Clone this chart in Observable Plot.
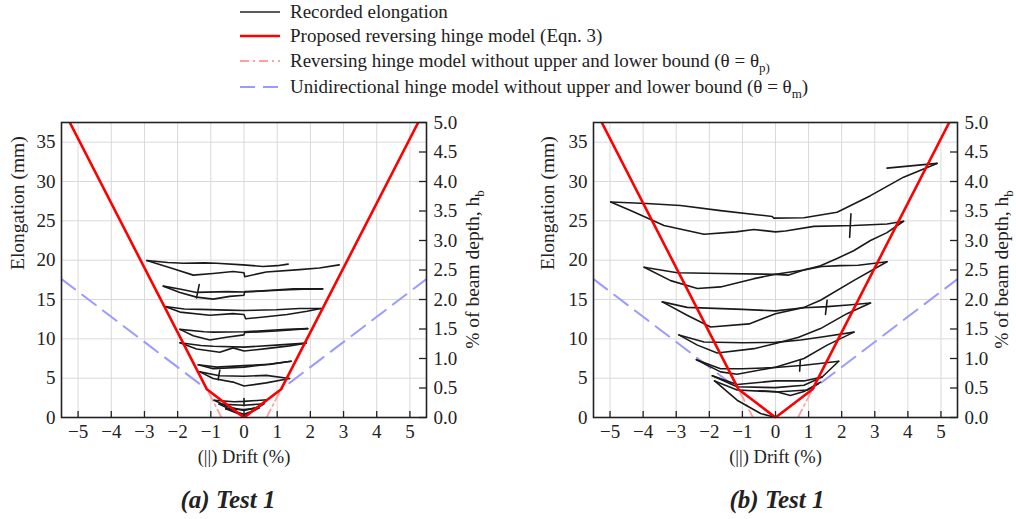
<!DOCTYPE html>
<html>
<head>
<meta charset="utf-8">
<script src="https://cdn.jsdelivr.net/npm/d3@7"></script>
<script src="https://cdn.jsdelivr.net/npm/@observablehq/plot@0.6"></script>
<style>
  body { margin: 0; background: #fff; font-family: "Liberation Serif", serif; color: #222; }
  #wrap { position: relative; width: 1016px; height: 519px; overflow: hidden; background: #fff; }
  .row { position: absolute; left: 240px; height: 24px; display: flex; align-items: center; white-space: nowrap; font-size: 19px; }
  .row svg { width: 40px; height: 10px; margin-right: 10px; flex: none; }
  .panel { position: absolute; top: 110px; }
  .panel svg, .panel svg text, .panel svg g { font-family: "Liberation Serif", serif !important; }
  .cap { position: absolute; top: 486px; font-size: 25px; font-weight: bold; font-style: italic; transform: translateX(-50%); white-space: nowrap; }
  sub { font-size: 13px; vertical-align: -5px; line-height: 0; }
</style>
</head>
<body>
<div id="wrap">
  <div class="row" style="top:0px"><svg><line x1="0" x2="40" y1="5" y2="5" stroke="#222" stroke-width="1.5"/></svg><span>Recorded elongation</span></div>
  <div class="row" style="top:24px"><svg><line x1="0" x2="40" y1="5" y2="5" stroke="#ff0000" stroke-width="2.5"/></svg><span>Proposed reversing hinge model (Eqn. 3)</span></div>
  <div class="row" style="top:49px"><svg><line x1="0" x2="40" y1="5" y2="5" stroke="#ff9f9f" stroke-width="1.8" stroke-dasharray="9,4,2,4"/></svg><span>Reversing hinge model without upper and lower bound (θ = θ<sub>p)</sub></span></div>
  <div class="row" style="top:75px"><svg><line x1="0" x2="40" y1="5" y2="5" stroke="#9a9aff" stroke-width="2" stroke-dasharray="15,8"/></svg><span>Unidirectional hinge model without upper and lower bound (θ = θ<sub>m</sub>)</span></div>
  <div id="pa" class="panel" style="left:0px"></div>
  <div id="pb" class="panel" style="left:520px"></div>
  <div class="cap" style="left:228px">(a) Test 1</div>
  <div class="cap" style="left:777px">(b) Test 1</div>
</div>
<script>
// ---------- axes ----------
const xTicks = [-5, -4, -3, -2, -1, 0, 1, 2, 3, 4, 5];
const yTicks = [0, 5, 10, 15, 20, 25, 30, 35];
const rightTicks = [0.0, 0.5, 1.0, 1.5, 2.0, 2.5, 3.0, 3.5, 4.0, 4.5, 5.0]; // % of beam depth
const beamDepthMm = 750;
const xDomain = [-5.5, 5.5];
const yDomain = [0, 37.5];
const xLabel = "(||) Drift (%)";
const yLabel = "Elongation (mm)";

// ---------- model lines (drift %, elongation mm) ----------
const proposedModel = [[-5.25, 37.5], [-1.12, 3.6], [0, 0], [1.12, 3.6], [5.25, 37.5]];
const reversingLeft = [[-5.25, 37.5], [-0.68, 0]];
const reversingRight = [[0.68, 0], [5.25, 37.5]];
const unidirectional = [[-5.5, 17.6], [0, 0], [5.5, 17.6]];

// ---------- recorded elongation, panel (a) ----------
const a1u = [[-2.93,19.95],[-2.3,19.7],[-1.83,19.6],[-1.2,19.65],[-0.83,19.6],[-0.03,19.4],[0.57,19.2],[1.0,19.3],[1.33,19.5]];
const a1l = [[-2.93,19.95],[-2.13,18.9],[-1.53,18.1],[-0.93,18.3],[-0.33,18.55],[0,18.4],[0.02,17.9],[0.67,18.5],[1.67,18.8],[2.27,19.0],[2.87,19.4]];
const a2u = [[-2.43,16.7],[-1.9,16.3],[-1.43,15.9],[-0.5,16.0],[0,15.95],[0.67,16.15],[1.5,16.35],[2.37,16.35]];
const a2l = [[-2.43,16.7],[-1.93,15.9],[-1.43,15.3],[-0.93,15.05],[-0.43,15.4],[0,15.55],[0.02,16.0],[0.5,16.05],[1.17,16.2],[1.8,16.3],[2.37,16.35]];
const a2t = [[-1.35,16.9],[-1.43,15.2]];
const a3u = [[-2.38,14.1],[-1.8,13.8],[-1.33,13.75],[-0.5,13.65],[0,13.6],[0.97,13.7],[1.67,13.85],[2.32,13.85]];
const a3l = [[-2.38,14.1],[-1.93,13.4],[-1.03,13.0],[-0.33,13.2],[0,13.1],[0.05,12.55],[0.67,12.8],[1.3,13.1],[1.9,13.5],[2.32,13.85]];
const a4u = [[-1.93,11.2],[-1.2,10.9],[-0.93,10.85],[0,10.9],[0.67,11.05],[1.3,11.2],[1.92,11.3]];
const a4l = [[-1.93,11.2],[-1.53,10.4],[-1.03,9.85],[-0.53,10.2],[0,10.5],[0.02,10.8],[0.97,11.0],[1.92,11.3]];
const a5u = [[-1.93,9.5],[-1.3,9.15],[-0.93,9.05],[0,8.95],[0.97,9.2],[1.87,9.45]];
const a5l = [[-1.93,9.5],[-1.43,8.7],[-0.73,8.3],[-0.33,8.85],[0,8.45],[0.67,8.75],[1.37,9.1],[1.87,9.45]];
const a6u = [[-1.38,6.7],[-0.83,6.4],[0,6.6],[0.77,6.75],[1.42,7.15]];
const a6l = [[-1.38,6.7],[-0.93,6.2],[0,6.4],[0.8,6.8],[1.42,7.15]];
const a6t = [[-0.73,6.0],[-0.78,4.8]];
const a7u = [[-1.33,5.8],[-0.73,5.3],[0,5.25],[0.67,5.35],[1.37,4.95]];
const a7l = [[-1.33,5.8],[-0.93,4.95],[-0.33,4.5],[0,4.0],[0.67,4.4],[1.37,4.95]];
const a8u = [[-0.9,2.2],[-0.3,2.0],[0,2.05],[0.7,2.25]];
const a8l = [[-0.9,2.2],[-0.5,1.4],[0,0.9],[0.4,1.3],[0.7,2.25]];
const a9u = [[-0.75,1.7],[0,1.55],[0.6,1.75]];
const a9l = [[-0.75,1.7],[-0.3,0.8],[0,0.4],[0.3,0.9],[0.6,1.75]];
const a10u = [[-0.55,1.1],[0,1.0],[0.45,1.2]];
const a10l = [[-0.55,1.1],[0,0.2],[0.45,1.2]];
const a10t = [[0,2.4],[0,1.5]];
const curvesA = [a1u,a1l,a2u,a2l,a2t,a3u,a3l,a4u,a4l,a5u,a5l,a6u,a6l,a6t,a7u,a7l,a8u,a8l,a9u,a9l,a10u,a10l,a10t];

// ---------- recorded elongation, panel (b) ----------
const b1u = [[-4.98,27.4],[-3.9,27.2],[-2.87,26.95],[-1.66,26.3],[-0.5,25.75],[-0.1,25.55],[-0.05,25.35],[0.86,25.4],[1.86,26.1],[2.87,28.2],[3.87,30.55],[4.88,32.3]];
const b1e = [[4.88,32.3],[3.37,31.7]];
const b1l = [[-4.98,27.4],[-4.38,26.3],[-3.37,24.4],[-2.16,23.3],[-1.2,23.6],[-0.65,23.9],[0,23.6],[0.3,23.7],[1.16,24.3],[2.36,24.4],[3.37,24.6],[3.87,24.95]];
const b1t = [[2.28,25.9],[2.24,22.9]];
const b2u = [[3.37,19.8],[2.5,19.35],[1.96,19.3],[1.4,19.2],[0.9,18.8],[0.4,18.1],[0,18.2],[-1.66,18.3],[-2.97,18.4],[-3.97,19.1]];
const b2l = [[-3.97,19.1],[-3.17,17.4],[-2.36,16.4],[-1.66,16.6],[-0.65,17.65],[0,18.2],[0.86,18.75],[1.36,19.3],[1.86,20.2],[2.36,21.2],[2.87,22.5],[3.37,23.5],[3.87,24.95]];
const b3u = [[2.87,14.55],[2.2,14.3],[1.56,14.1],[0.86,13.95],[0,13.55],[-1.0,13.75],[-2.67,14.0],[-3.42,14.7]];
const b3l = [[-3.42,14.7],[-2.67,13.0],[-1.96,11.5],[-0.8,11.9],[0,13.2],[0.86,14.0],[1.36,14.9],[2.36,17.4],[3.37,19.8]];
const b3t = [[1.56,14.9],[1.51,13.1]];
const b4u = [[2.37,10.85],[1.5,10.3],[0.76,9.85],[0,9.55],[-1.0,9.5],[-2.16,9.6],[-2.92,10.5]];
const b4l = [[-2.92,10.5],[-2.36,9.2],[-1.76,8.2],[-0.65,8.75],[0,9.4],[0.7,10.2],[1.36,11.3],[2.16,13.2],[2.87,14.55]];
const b5u = [[1.91,7.15],[1.4,6.9],[0.86,6.65],[0,6.35],[-1.0,6.2],[-1.66,6.2],[-2.39,7.35]];
const b5l = [[-2.39,7.35],[-1.66,5.8],[-1.16,5.5],[0,6.4],[0.86,7.5],[1.56,9.2],[2.37,10.85]];
const b5t = [[0.75,7.3],[0.73,5.9]];
const b6u = [[1.41,5.15],[0.86,4.65],[0,4.65],[-1.16,4.2],[-1.91,5.3]];
const b6l = [[-1.91,5.3],[-1.16,3.9],[0,3.8],[0.86,4.1],[1.41,5.15],[1.91,7.15]];
const b7u = [[1.36,4.5],[0.96,3.5],[0,3.25],[-1.16,3.5],[-1.84,4.65]];
const b7l = [[-1.84,4.65],[-1.16,2.2],[-0.45,0.5],[0,0]];
const b7d = [[-0.5,3.4],[0,3.3],[0.45,2.8],[0.86,3.3],[1.3,4.3]];
const curvesB = [b1u,b1e,b1l,b1t,b2u,b2l,b3u,b3l,b3t,b4u,b4l,b5u,b5l,b5t,b6u,b6l,b7u,b7l,b7d];

const fmt = d => (d < 0 ? "\u2212" + Math.abs(d) : String(d));
const FONT = "Liberation Serif";

function makePanel(curves, opt) {
  const W = opt.width, H = 365, mt = 12, mb = 58;
  const fw = W - opt.ml - opt.mr, fh = H - mt - mb;
  const rows = curves.flatMap((c, i) => c.map(([x, y]) => ({x, y, id: i})));
  const pt = {x: d => d[0], y: d => d[1]};
  const rightMm = rightTicks.map(p => p * beamDepthMm / 100);
  const ax = {fontSize: 19, tickSize: 0, label: null, fill: "#222"};
  const svg = Plot.plot({
    width: W, height: H,
    marginTop: mt, marginBottom: mb, marginLeft: opt.ml, marginRight: opt.mr,
    style: {fontFamily: FONT, fontSize: "19px", color: "#222", background: "transparent", overflow: "visible"},
    x: {domain: xDomain, label: null, axis: null},
    y: {domain: yDomain, label: null, axis: null},
    marks: [
      Plot.gridX(xTicks, {stroke: "#d9d9d9", strokeOpacity: 1, strokeWidth: 1}),
      Plot.gridY(yTicks, {stroke: "#d9d9d9", strokeOpacity: 1, strokeWidth: 1}),
      Plot.axisX(xTicks, {...ax, anchor: "bottom", tickPadding: 7, tickFormat: fmt}),
      Plot.axisY(yTicks, {...ax, anchor: "left", tickPadding: 6, tickFormat: fmt}),
      Plot.axisY(rightMm, {...ax, anchor: "right", tickPadding: 7, tickFormat: d => (d * 100 / beamDepthMm).toFixed(1)}),
      Plot.tickX(xTicks, {x: d => d, insetTop: fh - 6, stroke: "#222", strokeWidth: 1.3}),
      Plot.tickY(rightMm, {y: d => d, insetLeft: fw - 7, stroke: "#222", strokeWidth: 1.3}),
      Plot.line(unidirectional, {...pt, stroke: "#9a9aff", strokeWidth: 2, strokeDasharray: "17,9", clip: true}),
      Plot.line(reversingLeft, {...pt, stroke: "#ff9f9f", strokeWidth: 1.8, strokeDasharray: "9,4,2,4", clip: true}),
      Plot.line(reversingRight, {...pt, stroke: "#ff9f9f", strokeWidth: 1.8, strokeDasharray: "9,4,2,4", clip: true}),
      Plot.line(rows, {x: "x", y: "y", z: "id", stroke: "#1a1a1a", strokeWidth: 1.6, curve: "linear"}),
      Plot.line(proposedModel, {...pt, stroke: "#ff0000", strokeWidth: 2.6, clip: true}),
      Plot.frame({stroke: "#222", strokeWidth: 1.6}),
      Plot.text([xLabel], {frameAnchor: "bottom", dy: 45, text: d => d, fontSize: 18.5, fill: "#222"}),
      Plot.text([yLabel], {frameAnchor: "left", dx: opt.ldx, rotate: -90, text: d => d, fontSize: 19.5, fill: "#222"})
    ]
  });
  // right-hand label with subscript
  const t = d3.select(svg).append("text")
    .attr("transform", `translate(${W - opt.mr + opt.rdx},${mt + fh / 2}) rotate(-90)`)
    .attr("text-anchor", "middle").attr("dy", "0.32em")
    .attr("font-size", 19.5).attr("fill", "#222");
  t.append("tspan").text("% of beam depth, h");
  t.append("tspan").attr("font-size", 13).attr("dy", 5).text("b");
  return svg;
}

document.getElementById("pa").append(makePanel(curvesA, {width: 500, ml: 61, mr: 74, ldx: -44, rdx: 47}));
document.getElementById("pb").append(makePanel(curvesB, {width: 496, ml: 73, mr: 59, ldx: -46, rdx: 45}));
</script>
</body>
</html>
